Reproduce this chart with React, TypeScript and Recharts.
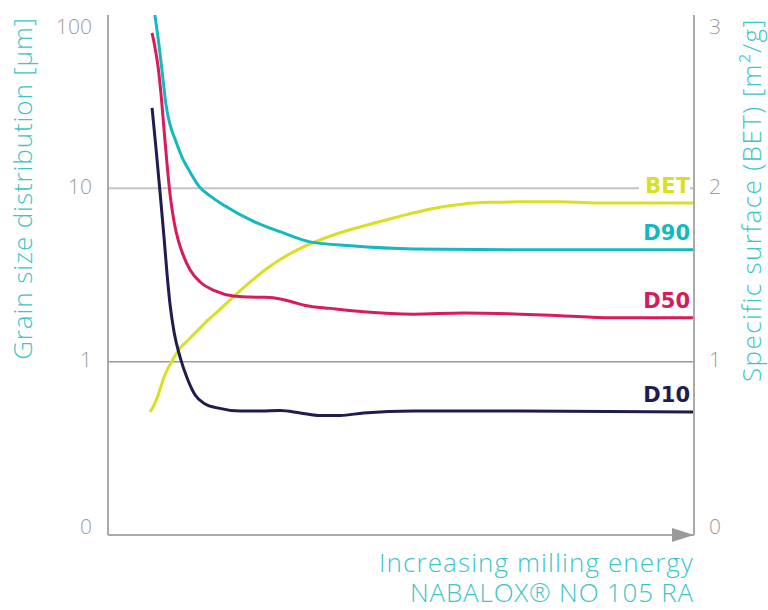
import { LabelList, Line, LineChart, ReferenceLine, XAxis, YAxis } from "recharts";

// energy axis is unitless (0..100), grain sizes in µm, BET in m²/g
const d90Energy = [8.0, 8.7, 9.4, 9.9, 10.6, 11.5, 12.6, 14.0, 15.6, 17.4, 20.0, 24.3, 29.9, 34.5, 41.4, 52.1, 70.4, 100];
const d90Um = [100, 67.2, 42.2, 30.3, 23.2, 19.0, 15.2, 12.4, 10.2, 9.04, 7.91, 6.57, 5.53, 4.91, 4.66, 4.47, 4.42, 4.42];

const d50Energy = [7.52, 8.03, 8.55, 9.06, 9.57, 10.09, 10.6, 11.28, 11.97, 12.82, 14.02, 15.73, 18.29, 21.37, 24.27, 26.84, 29.4, 31.45, 33.68, 37.95, 43.59, 52.14, 60.68, 70.43, 77.26, 85.81, 100];
const d50Um = [78.8, 64.6, 50.2, 34.6, 21.7, 13.6, 9.16, 6.4, 5.04, 4.13, 3.38, 2.88, 2.56, 2.39, 2.36, 2.35, 2.3, 2.21, 2.11, 2.03, 1.94, 1.88, 1.91, 1.88, 1.84, 1.79, 1.79];

const d10Energy = [7.52, 8.21, 8.89, 9.57, 10.09, 10.6, 11.28, 12.31, 13.5, 14.87, 16.58, 18.63, 22.56, 25.98, 29.4, 32.82, 36.24, 39.66, 43.59, 52.14, 70.43, 100];
const d10Um = [29.1, 16.7, 9.41, 5.17, 3.17, 2.12, 1.48, 1.06, 0.805, 0.642, 0.57, 0.541, 0.52, 0.52, 0.523, 0.506, 0.489, 0.489, 0.506, 0.52, 0.52, 0.513];

const betEnergy = [7.18, 7.86, 8.38, 8.89, 9.57, 10.26, 10.94, 11.62, 12.31, 13.68, 15.21, 16.92, 18.63, 21.37, 24.27, 27.69, 32.31, 37.95, 43.59, 49.4, 55.04, 60.68, 65.3, 70.43, 77.26, 82.91, 100];
const betM2g = [0.71, 0.75, 0.791, 0.842, 0.912, 0.964, 1.004, 1.044, 1.079, 1.125, 1.177, 1.235, 1.287, 1.373, 1.46, 1.552, 1.645, 1.725, 1.783, 1.835, 1.881, 1.91, 1.919, 1.922, 1.922, 1.916, 1.916];

const axisTicks = [0, 1, 2, 3];
const leftTickLabels = ["0", "1", "10", "100"];
const rightTickLabels = ["0", "1", "2", "3"];

const CYAN = "#14b9bd";
const CRIMSON = "#d81b5b";
const NAVY = "#1f1c4f";
const YELLOW = "#d7e023";
const LABEL_CYAN = "#3cc5c7";
const AXIS = "#aaaaaa";
const TICK = "#9c9c9c";
const FONT = "'Open Sans', sans-serif";
const BOLD_FONT = "'DejaVu Sans', Verdana, sans-serif";

// left axis is log: 0.1 µm -> 0, 1 -> 1, 10 -> 2, 100 -> 3
const toLog = (um: number) => Math.log10(um) + 1;

const d90 = d90Energy.map((x, i) => ({ x, y: toLog(d90Um[i]) }));
const d50 = d50Energy.map((x, i) => ({ x, y: toLog(d50Um[i]) }));
const d10 = d10Energy.map((x, i) => ({ x, y: toLog(d10Um[i]) }));
const bet = betEnergy.map((x, i) => ({ x, y: betM2g[i] }));

const tickShift: Record<number, number> = { 0: -9, 1: -3, 2: -2, 3: 11 };

const leftTick = (props: any) => {
  const { x, y, payload } = props;
  return (
    <text x={x - 16} y={y + tickShift[payload.value]} textAnchor="end" dominantBaseline="central"
      fill={TICK} fontSize={21} fontFamily={FONT} fontWeight={300}>
      {leftTickLabels[payload.value]}
    </text>
  );
};

const rightTick = (props: any) => {
  const { x, y, payload } = props;
  return (
    <text x={x + 15} y={y + tickShift[payload.value]} textAnchor="start" dominantBaseline="central"
      fill={TICK} fontSize={21} fontFamily={FONT} fontWeight={300}>
      {rightTickLabels[payload.value]}
    </text>
  );
};

const endLabel = (text: string, color: string, lastIndex: number, withBg = false) => (props: any) => {
  const { x, y, index } = props;
  if (index !== lastIndex) return null;
  const ty = y - 17;
  return (
    <g>
      {withBg && <rect x={x - 55} y={ty - 12} width={51} height={24} fill="#fff" />}
      <text x={x - 4} y={ty} textAnchor="end" dominantBaseline="central" fill={color}
        fontSize={21} fontWeight={700} fontFamily={BOLD_FONT}>
        {text}
      </text>
    </g>
  );
};

const xLabel = (props: any) => {
  const { x, y, width } = props.viewBox;
  const right = x + width;
  return (
    <g>
      <polygon points={`${right - 22},${y - 7} ${right},${y} ${right - 22},${y + 7}`} fill="#9a9a9a" />
      <text x={right} y={y + 37} textAnchor="end" fill={LABEL_CYAN}
        fontSize={26} letterSpacing={1.1} fontFamily={FONT} fontWeight={300}>
        Increasing milling energy
      </text>
      <text x={right} y={y + 67} textAnchor="end" fill={LABEL_CYAN}
        fontSize={26} letterSpacing={0.8} fontFamily={FONT} fontWeight={300}>
        NABALOX® NO 105 RA
      </text>
    </g>
  );
};

const leftLabel = (props: any) => {
  const { x, y } = props.viewBox;
  const cx = x + 22;
  const cy = y + 2;
  return (
    <text x={cx} y={cy} transform={`rotate(-90, ${cx}, ${cy})`} textAnchor="end"
      dominantBaseline="central" fill={LABEL_CYAN} fontSize={26} letterSpacing={0.9} fontFamily={FONT}
      fontWeight={300}>
      Grain size distribution [µm]
    </text>
  );
};

const rightLabel = (props: any) => {
  const { x, y } = props.viewBox;
  const cx = x + 57;
  const cy = y + 3;
  return (
    <text x={cx} y={cy} transform={`rotate(-90, ${cx}, ${cy})`} textAnchor="end"
      dominantBaseline="central" fill={LABEL_CYAN} fontSize={26} letterSpacing={1.4} fontFamily={FONT}
      fontWeight={300}>
      Specific surface (BET) [m²/g]
    </text>
  );
};

export default function App() {
  return (
    <div style={{ position: "absolute", left: 0, top: 0, fontFamily: FONT, background: "#fff" }}>
      <LineChart width={768} height={610} margin={{ top: 15, right: 0, bottom: 0, left: 0 }}>
        <XAxis type="number" dataKey="x" domain={[0, 100]} allowDataOverflow tick={false} tickLine={false}
          axisLine={{ stroke: AXIS, strokeWidth: 2 }} height={75} label={{ content: xLabel }} />
        <YAxis yAxisId="left" type="number" domain={[0, 3]} ticks={axisTicks} width={108} tickSize={0}
          tickMargin={0} tickLine={false} axisLine={{ stroke: AXIS, strokeWidth: 2 }} tick={leftTick}
          label={{ content: leftLabel }} />
        <YAxis yAxisId="right" orientation="right" type="number" domain={[0, 3]} ticks={axisTicks} width={74}
          tickSize={0} tickMargin={0} tickLine={false} axisLine={{ stroke: AXIS, strokeWidth: 2 }}
          tick={rightTick} label={{ content: rightLabel }} />
        <ReferenceLine yAxisId="left" y={2} stroke="#c4c4c4" strokeWidth={2} />
        <ReferenceLine yAxisId="left" y={1} stroke="#999999" strokeWidth={1.5} />
        <Line yAxisId="right" data={bet} dataKey="y" type="monotone" stroke={YELLOW} strokeWidth={3}
          dot={false} isAnimationActive={false}>
          <LabelList dataKey="y" content={endLabel("BET", YELLOW, bet.length - 1, true)} />
        </Line>
        <Line yAxisId="left" data={d10} dataKey="y" type="monotone" stroke={NAVY} strokeWidth={3}
          dot={false} isAnimationActive={false}>
          <LabelList dataKey="y" content={endLabel("D10", NAVY, d10.length - 1)} />
        </Line>
        <Line yAxisId="left" data={d50} dataKey="y" type="monotone" stroke={CRIMSON} strokeWidth={3}
          dot={false} isAnimationActive={false}>
          <LabelList dataKey="y" content={endLabel("D50", CRIMSON, d50.length - 1)} />
        </Line>
        <Line yAxisId="left" data={d90} dataKey="y" type="monotone" stroke={CYAN} strokeWidth={3}
          dot={false} isAnimationActive={false}>
          <LabelList dataKey="y" content={endLabel("D90", CYAN, d90.length - 1)} />
        </Line>
      </LineChart>
    </div>
  );
}
